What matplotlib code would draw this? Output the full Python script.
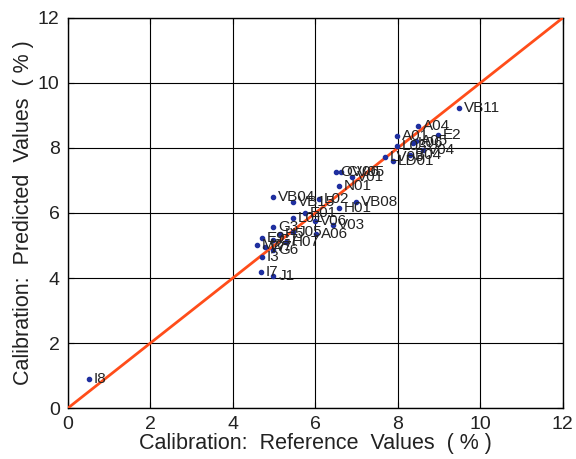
import matplotlib.pyplot as plt
import numpy as np

plt.rcParams['font.family'] = ['Liberation Sans', 'DejaVu Sans']

# sample names with reference and predicted values (%)
names = ["I8", "VB11", "A04", "A01", "E2", "L06", "A05", "V04", "L03", "LV03",
         "LD01", "B04", "OV06", "CV05", "V01", "N01", "VB04", "VB15", "L02",
         "VB08", "H01", "E01", "L01", "V06", "V03", "A06", "G3", "J05", "H5",
         "E9", "M2", "W7", "G7", "I3", "G6", "I7", "J1", "H07"]
ref = [0.51, 9.48, 8.48, 7.98, 8.98, 8.37, 8.45, 8.60, 7.98, 7.69,
       7.89, 8.29, 6.49, 6.62, 6.90, 6.58, 4.98, 5.46, 6.09,
       6.98, 6.58, 5.75, 5.46, 5.99, 6.42, 6.01, 4.98, 5.46, 5.14,
       4.70, 4.59, 4.78, 4.98, 4.70, 4.98, 4.67, 4.98, 5.30]
pred = [0.89, 9.22, 8.66, 8.38, 8.40, 8.16, 8.20, 7.95, 8.06, 7.73,
        7.60, 7.78, 7.25, 7.25, 7.10, 6.83, 6.50, 6.35, 6.43,
        6.35, 6.16, 5.99, 5.84, 5.75, 5.63, 5.35, 5.56, 5.43, 5.35,
        5.22, 5.02, 4.96, 5.17, 4.66, 4.86, 4.19, 4.06, 5.10]

ticks = [0, 2, 4, 6, 8, 10, 12]

fig = plt.figure(figsize=(5.76, 4.59), dpi=100)
ax = fig.add_axes([0.118, 0.111, 0.859, 0.850])

# 1:1 line
ax.plot([0, 12], [0, 12], color='#ff4d1a', lw=2.0, zorder=3)
ax.plot(ref, pred, 'o', color='#1f2f9f', ms=3, zorder=4)
for n, x, y in zip(names, ref, pred):
    ax.text(x + 0.12, y, n, fontsize=11, color='#222222',
            va='center', ha='left', zorder=5)

ax.set_xlim(0, 12)
ax.set_ylim(0, 12)
ax.set_xticks(ticks)
ax.set_yticks(ticks)
ax.grid(True, color='black', lw=0.8)
ax.set_axisbelow(True)
ax.tick_params(direction='in', top=True, right=True, labelsize=14, length=4,
               pad=6, labelcolor='#222222')
for s in ax.spines.values():
    s.set_linewidth(1.0)

ax.set_xlabel("Calibration:  Reference  Values  ( % )", fontsize=15.5,
              labelpad=0, color='#222222')
ax.set_ylabel("Calibration:  Predicted  Values  ( % )", fontsize=15.5,
              labelpad=3, color='#222222')

fig.savefig("out.png", dpi=100)
